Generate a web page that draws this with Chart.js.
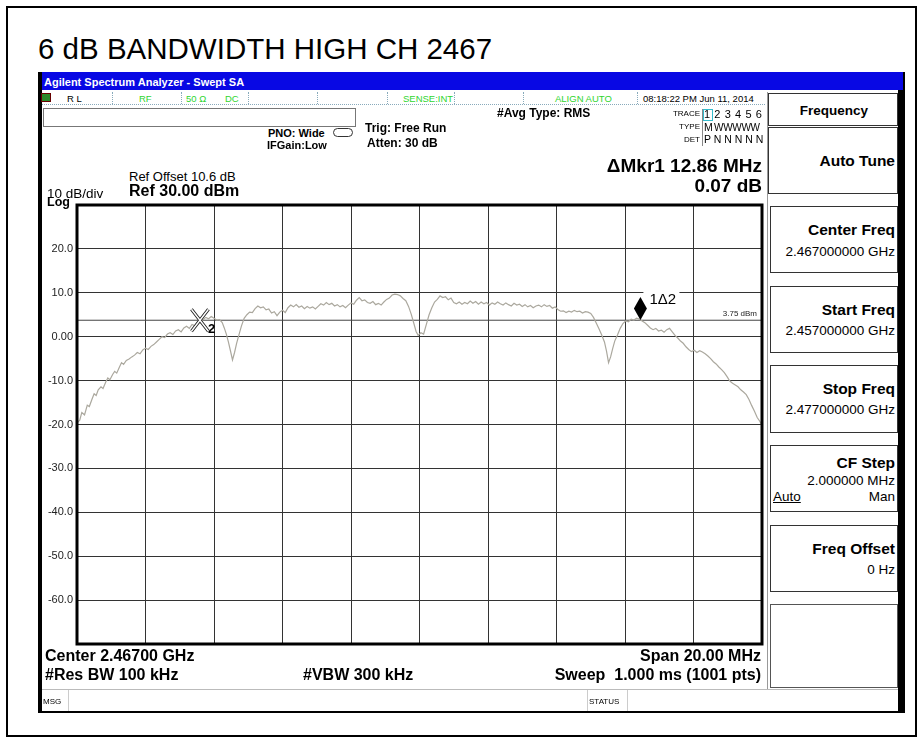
<!DOCTYPE html>
<html>
<head>
<meta charset="utf-8">
<script src="https://cdn.jsdelivr.net/npm/chart.js@4"></script>
<style>
  body { margin: 0; background: #fff; font-family: Arial, "Liberation Sans", sans-serif; }
  #page { position: relative; width: 923px; height: 742px; overflow: hidden; background: #fff; }
  .t { position: absolute; white-space: pre; line-height: 1; color: #000; }
  .box { position: absolute; box-sizing: border-box; }
  #trace { position: absolute; left: 37px; top: 190px; }
</style>
</head>
<body>
<div id="page">
  <!-- outer frame -->
  <div class="box" style="left:6px;top:6px;width:911px;height:731px;border:2px solid #000;"></div>
  <!-- analyzer screen frame -->
  <div class="box" style="left:38px;top:72px;width:4px;height:641px;background:#000;"></div>
  <div class="box" style="left:898px;top:72px;width:7px;height:641px;background:#000;"></div>
  <div class="box" style="left:38px;top:711px;width:867px;height:2px;background:#000;"></div>
  <div class="box" style="left:42px;top:72px;width:861px;height:18px;background:#0808e4;"></div>
  <!-- status row -->
  <div class="box" style="left:42px;top:104px;width:723px;height:0;border-top:1px dotted #8ab;"></div>
  <div class="box" style="left:41px;top:93px;width:10px;height:9px;background:#2a8a2a;border:1px solid #600;"></div>
  <div class="box" style="left:112px;top:92px;height:12px;border-left:1px dotted #8ab;"></div>
  <div class="box" style="left:181px;top:92px;height:12px;border-left:1px dotted #8ab;"></div>
  <div class="box" style="left:248px;top:92px;height:12px;border-left:1px dotted #8ab;"></div>
  <div class="box" style="left:317px;top:92px;height:12px;border-left:1px dotted #8ab;"></div>
  <div class="box" style="left:387px;top:92px;height:12px;border-left:1px dotted #8ab;"></div>
  <div class="box" style="left:454px;top:92px;height:12px;border-left:1px dotted #8ab;"></div>
  <div class="box" style="left:523px;top:92px;height:12px;border-left:1px dotted #8ab;"></div>
  <div class="box" style="left:637px;top:92px;height:12px;border-left:1px dotted #8ab;"></div>
  <!-- empty message box -->
  <div class="box" style="left:43px;top:108px;width:313px;height:19px;border:1px solid #777;"></div>
  <!-- PNO icon -->
  <div class="box" style="left:333px;top:128px;width:20px;height:9px;border:1.5px solid #333;border-radius:5px;"></div>
  <!-- trace table separator + cursor -->
  <div class="box" style="left:702px;top:109px;width:1px;height:37px;background:#888;"></div>
  <div class="box" style="left:703px;top:109px;width:10px;height:12px;border:1px solid #3bc;"></div>
  <!-- right soft key panel -->
  <div class="box" style="left:767px;top:92px;width:1px;height:597px;background:#999;"></div>
  <div class="box" style="left:768px;top:93px;width:130px;height:33px;border:1px solid #333;"></div>
  <div class="box" style="left:768px;top:127px;width:130px;height:67px;border:1px solid #333;"></div>
  <div class="box" style="left:770px;top:206px;width:128px;height:67px;border:1px solid #333;"></div>
  <div class="box" style="left:770px;top:286px;width:128px;height:67px;border:1px solid #333;"></div>
  <div class="box" style="left:770px;top:365px;width:128px;height:68px;border:1px solid #333;"></div>
  <div class="box" style="left:770px;top:445px;width:128px;height:67px;border:1px solid #333;"></div>
  <div class="box" style="left:770px;top:525px;width:128px;height:67px;border:1px solid #333;"></div>
  <div class="box" style="left:770px;top:604px;width:128px;height:84px;border:1px solid #555;"></div>
  <!-- bottom status bar -->
  <div class="box" style="left:42px;top:689px;width:856px;height:1px;background:#bbb;"></div>
  <div class="box" style="left:68px;top:690px;width:1px;height:21px;background:#ccc;"></div>
  <div class="box" style="left:587px;top:690px;width:1px;height:21px;background:#ccc;"></div>
  <div class="box" style="left:627px;top:690px;width:1px;height:21px;background:#ccc;"></div>

  <canvas id="trace" width="735" height="465"></canvas>
</div>

<script>
// Trace 1: frequency offset from start (MHz) and level (dBm)
const startFreqMHz = 2457;
const spanMHz = 20;
const offsetMHz = [
  0.00, 0.08, 0.14, 0.22, 0.30, 0.36, 0.44, 0.50, 0.56, 0.62, 0.70, 0.76, 0.84, 0.90, 0.96,
  1.04, 1.10, 1.16, 1.24, 1.30, 1.36, 1.44, 1.52, 1.60, 1.68, 1.76, 1.84, 1.92, 2.00, 2.08,
  2.16, 2.24, 2.32, 2.40, 2.48, 2.56, 2.64, 2.72, 2.80, 2.88, 2.96, 3.04, 3.12, 3.20, 3.28,
  3.36, 3.44, 3.52, 3.60, 3.68, 3.76, 3.84, 3.92, 4.00, 4.08, 4.16, 4.24, 4.30, 4.36, 4.42,
  4.48, 4.54, 4.60, 4.66, 4.72, 4.80, 4.88, 4.96, 5.04, 5.12, 5.20, 5.28, 5.36, 5.44, 5.52,
  5.60, 5.68, 5.76, 5.84, 5.92, 6.00, 6.08, 6.16, 6.24, 6.32, 6.40, 6.48, 6.56, 6.64, 6.72,
  6.80, 6.88, 6.96, 7.04, 7.12, 7.20, 7.28, 7.36, 7.44, 7.52, 7.60, 7.68, 7.76, 7.84, 7.92,
  8.00, 8.08, 8.16, 8.24, 8.32, 8.40, 8.48, 8.56, 8.64, 8.72, 8.80, 8.88, 8.96, 9.04, 9.12,
  9.20, 9.28, 9.36, 9.44, 9.52, 9.60, 9.68, 9.76, 9.84, 9.90, 9.96, 10.04, 10.12, 10.20, 10.28,
  10.36, 10.44, 10.52, 10.60, 10.68, 10.76, 10.84, 10.92, 11.00, 11.08, 11.16, 11.24, 11.32, 11.40, 11.48,
  11.56, 11.64, 11.72, 11.80, 11.88, 11.96, 12.04, 12.12, 12.20, 12.28, 12.36, 12.44, 12.52, 12.60, 12.68,
  12.76, 12.84, 12.92, 13.00, 13.08, 13.16, 13.24, 13.32, 13.40, 13.48, 13.56, 13.64, 13.72, 13.80, 13.88,
  13.96, 14.04, 14.12, 14.20, 14.28, 14.36, 14.44, 14.52, 14.60, 14.68, 14.76, 14.84, 14.92, 15.00, 15.08,
  15.16, 15.24, 15.32, 15.40, 15.46, 15.52, 15.58, 15.64, 15.70, 15.78, 15.86, 15.94, 16.02, 16.10, 16.18,
  16.26, 16.34, 16.42, 16.50, 16.58, 16.66, 16.74, 16.82, 16.90, 16.98, 17.06, 17.14, 17.22, 17.30, 17.38,
  17.46, 17.54, 17.62, 17.70, 17.78, 17.86, 17.94, 18.02, 18.10, 18.18, 18.26, 18.34, 18.42, 18.50, 18.58,
  18.66, 18.74, 18.82, 18.90, 18.98, 19.06, 19.14, 19.22, 19.30, 19.38, 19.46, 19.54, 19.62, 19.70, 19.78,
  19.86, 19.94, 20.00
];
const levelDbm = [
  -19.6, -19.0, -17.3, -17.8, -15.6, -15.9, -14.2, -13.0, -13.4, -12.1, -11.4, -11.8, -10.3, -9.4, -9.8,
  -8.6, -7.9, -8.3, -6.9, -5.9, -6.3, -5.4, -5.1, -4.6, -4.2, -3.6, -3.9, -3.0, -2.6, -2.9,
  -2.2, -1.8, -1.2, -0.6, 0.0, -0.2, 0.6, 0.9, 0.5, 1.3, 1.6, 1.1, 2.0, 2.4, 1.9,
  2.8, 2.5, 3.4, 3.1, 3.9, 4.4, 4.1, 4.6, 4.2, 3.8, 3.9, 3.2, 2.0, 0.6, -1.2,
  -3.2, -5.3, -3.6, -1.5, 0.2, 2.4, 4.2, 5.0, 5.6, 5.5, 6.4, 7.0, 6.6, 6.8, 6.1,
  6.3, 5.4, 5.7, 4.8, 5.6, 6.0, 5.5, 6.6, 7.2, 6.8, 7.3, 6.7, 7.0, 6.4, 6.9,
  6.5, 6.8, 6.3, 6.9, 7.5, 7.2, 7.8, 7.3, 7.6, 7.0, 7.3, 6.8, 7.1, 6.6, 7.2,
  7.7, 7.4, 8.3, 8.9, 8.2, 8.4, 7.8, 7.6, 8.0, 7.3, 7.6, 7.2, 7.9, 8.5, 8.8,
  9.5, 9.7, 9.6, 9.3, 8.7, 8.2, 6.9, 5.1, 2.9, 1.2, 0.3, 0.9, 0.6, 2.8, 5.0,
  6.6, 7.9, 8.5, 9.3, 8.9, 9.1, 8.4, 8.8, 7.8, 7.5, 7.9, 7.4, 7.8, 7.5, 8.1,
  7.6, 8.0, 7.4, 7.9, 7.5, 7.8, 7.2, 7.7, 7.4, 7.9, 7.5, 7.2, 7.7, 7.3, 7.0,
  7.6, 7.2, 7.4, 6.9, 7.3, 6.8, 7.1, 6.6, 7.0, 7.2, 6.8, 7.3, 6.9, 7.1, 6.5,
  6.8, 6.2, 5.8, 5.9, 5.5, 5.8, 5.6, 6.0, 5.7, 5.8, 5.4, 5.7, 5.6, 5.3, 4.4,
  3.1, 1.8, 0.4, -1.2, -3.3, -5.9, -4.6, -2.7, -1.0, 0.4, 1.9, 3.0, 3.6, 3.4, 4.0,
  3.8, 4.2, 4.0, 3.6, 3.2, 2.6, 2.0, 1.6, 1.9, 1.3, 1.5, 1.0, 1.6, 1.9, 1.1,
  0.3, -0.3, -1.0, -1.5, -2.3, -2.9, -3.4, -3.1, -3.6, -3.2, -3.5, -3.9, -4.4, -5.0, -5.7,
  -6.2, -6.9, -7.5, -8.2, -9.1, -10.1, -10.6, -11.0, -11.4, -12.1, -12.6, -13.2, -14.3, -15.7, -17.0,
  -18.4, -19.3, -20.3
];

// Y axis: reference level 30 dBm, 10 dB/div, 10 divisions
const refLevelDbm = 30;
const bottomLevelDbm = -70;
const dbPerDiv = 10;
const freqPerDivMHz = 2;

// Markers: [1 (delta), 2 (reference)]
const markerOffsetMHz = [16.45, 3.59];
const markerLevelDbm = [3.82, 3.75];
const displayLineDbm = 3.75;

const page = document.getElementById('page');

function addText(str, x, base, size, opts = {}) {
  const d = document.createElement('div');
  d.className = 't';
  d.textContent = str;
  d.style.fontSize = size + 'px';
  d.style.top = (base - 0.85 * size) + 'px';
  if (opts.align === 'right') d.style.right = (923 - x) + 'px';
  else if (opts.align === 'center') { d.style.left = x + 'px'; d.style.transform = 'translateX(-50%)'; }
  else d.style.left = x + 'px';
  if (opts.bold) d.style.fontWeight = 'bold';
  if (opts.color) d.style.color = opts.color;
  if (opts.spacing) d.style.letterSpacing = opts.spacing + 'px';
  if (opts.underline) d.style.textDecoration = 'underline';
  page.appendChild(d);
}

const green = '#2fd52f';
addText('6 dB BANDWIDTH HIGH CH 2467', 38, 59, 29.5);
addText('Agilent Spectrum Analyzer - Swept SA', 44, 86, 11, { bold: true, color: '#fff' });
addText('R L', 67, 102, 9.5);
addText('RF', 139, 102, 9.5, { color: green });
addText('50 Ω', 186, 102, 9.5, { color: green });
addText('DC', 225, 102, 9.5, { color: green });
addText('SENSE:INT', 403, 102, 9.5, { color: green });
addText('ALIGN AUTO', 555, 102, 9.5, { color: green });
addText('08:18:22 PM Jun 11, 2014', 643, 102, 9.5);
addText('PNO: Wide', 268, 137, 11, { bold: true });
addText('IFGain:Low', 267, 149, 11, { bold: true });
addText('Trig: Free Run', 365, 132, 12, { bold: true });
addText('Atten: 30 dB', 367, 147, 12, { bold: true });
addText('#Avg Type: RMS', 497, 117, 12, { bold: true });
addText('TRACE', 700, 117, 8, { align: 'right' });
addText('TYPE', 700, 130, 8, { align: 'right' });
addText('DET', 700, 143, 8, { align: 'right' });
addText('1 2 3 4 5 6', 704, 118, 11, { spacing: 0.6 });
addText('M', 704, 131, 10.5);
addText('WWWWW', 714, 131, 10, { spacing: -0.3 });
addText('P N N N N N', 704, 143, 10.5);
addText('\u0394Mkr1 12.86 MHz', 762, 172, 19, { bold: true, align: 'right' });
addText('0.07 dB', 762, 192, 19, { bold: true, align: 'right' });
addText('Ref Offset 10.6 dB', 129, 181, 13);
addText('Ref 30.00 dBm', 129, 197, 16, { bold: true });
addText('10 dB/div', 47, 198, 13.5);
addText('Log', 47, 207, 12.5, { bold: true });

addText('Frequency', 834, 115, 13.5, { bold: true, align: 'center' });
addText('Auto Tune', 895, 166, 15.5, { bold: true, align: 'right' });
addText('Center Freq', 895, 235, 15.5, { bold: true, align: 'right' });
addText('2.467000000 GHz', 895, 256, 13.5, { align: 'right' });
addText('Start Freq', 895, 315, 15.5, { bold: true, align: 'right' });
addText('2.457000000 GHz', 895, 335, 13.5, { align: 'right' });
addText('Stop Freq', 895, 394, 15.5, { bold: true, align: 'right' });
addText('2.477000000 GHz', 895, 414, 13.5, { align: 'right' });
addText('CF Step', 895, 468, 15.5, { bold: true, align: 'right' });
addText('2.000000 MHz', 895, 485, 13.5, { align: 'right' });
addText('Auto', 773, 501, 13.5, { underline: true });
addText('Man', 895, 501, 13.5, { align: 'right' });
addText('Freq Offset', 895, 554, 15.5, { bold: true, align: 'right' });
addText('0 Hz', 895, 574, 13.5, { align: 'right' });

addText('Center 2.46700 GHz', 45, 662, 16, { bold: true });
addText('#Res BW 100 kHz', 45, 681, 16, { bold: true });
addText('#VBW 300 kHz', 303, 681, 16, { bold: true });
addText('Span 20.00 MHz', 761, 662, 16, { bold: true, align: 'right' });
addText('Sweep  1.000 ms (1001 pts)', 761, 681, 16, { bold: true, align: 'right' });
addText('MSG', 43, 705, 8);
addText('STATUS', 589, 705, 8);

// Draws plot border, display line label and the markers
const overlay = {
  id: 'overlay',
  afterDatasetsDraw(chart) {
    const { ctx, chartArea: a, scales: { x, y } } = chart;
    ctx.save();
    ctx.strokeStyle = '#000';
    ctx.lineWidth = 3;
    ctx.strokeRect(a.left, a.top, a.right - a.left, a.bottom - a.top);

    // display line label
    ctx.fillStyle = '#222';
    ctx.font = '8px Arial';
    ctx.textAlign = 'right';
    ctx.fillText(displayLineDbm.toFixed(2) + ' dBm', a.right - 5, y.getPixelForValue(displayLineDbm) - 4);

    // marker 1: filled diamond, tip on the trace
    const m1x = x.getPixelForValue(markerOffsetMHz[0]);
    const m1y = y.getPixelForValue(markerLevelDbm[0]);
    ctx.fillStyle = '#fff';
    ctx.fillRect(m1x + 3, m1y - 32, 36, 17);
    ctx.fillStyle = '#000';
    ctx.beginPath();
    ctx.moveTo(m1x, m1y);
    ctx.lineTo(m1x - 6.5, m1y - 11.5);
    ctx.lineTo(m1x, m1y - 23);
    ctx.lineTo(m1x + 6.5, m1y - 11.5);
    ctx.closePath();
    ctx.fill();
    ctx.font = '15px Arial';
    ctx.textAlign = 'left';
    ctx.fillText('1\u03942', m1x + 9, m1y - 16);

    // marker 2: hollow X with subscript
    const m2x = x.getPixelForValue(markerOffsetMHz[1]);
    const m2y = y.getPixelForValue(markerLevelDbm[1]);
    const drawX = () => {
      ctx.beginPath();
      ctx.moveTo(m2x - 8.5, m2y - 11);
      ctx.lineTo(m2x + 8.5, m2y + 11);
      ctx.moveTo(m2x + 8.5, m2y - 11);
      ctx.lineTo(m2x - 8.5, m2y + 11);
      ctx.stroke();
    };
    ctx.strokeStyle = '#222';
    ctx.lineWidth = 3.2;
    drawX();
    ctx.strokeStyle = '#fff';
    ctx.lineWidth = 1.4;
    drawX();
    ctx.fillStyle = '#000';
    ctx.font = 'bold 13px Arial';
    ctx.fillText('2', m2x + 8, m2y + 13);
    ctx.restore();
  }
};

const ctx = document.getElementById('trace').getContext('2d');
new Chart(ctx, {
  type: 'line',
  data: {
    datasets: [
      {
        data: offsetMHz.map((f, i) => ({ x: f, y: levelDbm[i] })),
        borderColor: '#aba89e',
        borderWidth: 1.2,
        pointRadius: 0,
        tension: 0
      },
      {
        data: [{ x: 0, y: displayLineDbm }, { x: spanMHz, y: displayLineDbm }],
        borderColor: '#444',
        borderWidth: 1,
        pointRadius: 0
      }
    ]
  },
  options: {
    responsive: false,
    animation: false,
    layout: { padding: { top: 15, right: 10, bottom: 11, left: 0 } },
    plugins: { legend: { display: false }, tooltip: { enabled: false } },
    scales: {
      x: {
        type: 'linear',
        min: 0,
        max: spanMHz,
        ticks: { display: false, stepSize: freqPerDivMHz, autoSkip: false },
        grid: { color: '#333', drawTicks: false },
        border: { display: false },
        afterFit: s => { s.height = 0; }
      },
      y: {
        min: bottomLevelDbm,
        max: refLevelDbm,
        ticks: {
          stepSize: dbPerDiv,
          padding: 4,
          color: '#222',
          font: { size: 11, family: 'Arial' },
          callback: v => (v === refLevelDbm || v === bottomLevelDbm) ? '' : (v === 0 ? '0.00' : v.toFixed(1))
        },
        grid: { color: '#333', drawTicks: false },
        border: { display: false },
        afterFit: s => { s.width = 40; }
      }
    }
  },
  plugins: [overlay]
});
</script>
</body>
</html>
